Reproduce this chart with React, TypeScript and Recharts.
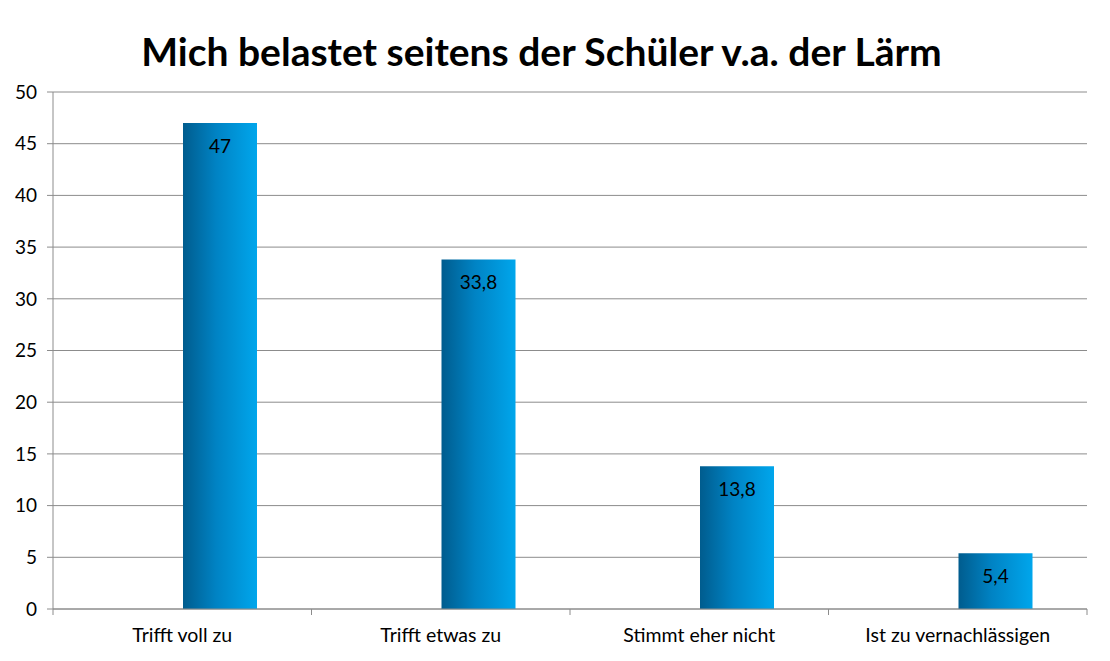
import React from "react";
import { BarChart, Bar, XAxis, YAxis, CartesianGrid, LabelList } from "recharts";

const categories = ["Trifft voll zu", "Trifft etwas zu", "Stimmt eher nicht", "Ist zu vernachlässigen"];
const emptySeries: (number | null)[] = [null, null, null, null];
const values = [47, 33.8, 13.8, 5.4];
const yTicks = [0, 5, 10, 15, 20, 25, 30, 35, 40, 45, 50];
const title = "Mich belastet seitens der Schüler v.a. der Lärm";

const data = categories.map((c, i) => ({ name: c, a: emptySeries[i], v: values[i] }));

const FONT = "Lato, 'Noto Sans', sans-serif";
const GRAY = "#8c8c8c";
const TICK_MARGIN = 19;

const CategoryTick = (props: any) => {
  const { x, y, payload, index, visibleTicksCount } = props;
  const half = payload && payload.offset ? payload.offset : 0;
  const axisY = y - TICK_MARGIN;
  const isLast = index === (visibleTicksCount ?? 4) - 1;
  return (
    <g>
      <line x1={x - half} x2={x - half} y1={axisY} y2={axisY + 6} stroke={GRAY} />
      {isLast && <line x1={x + half} x2={x + half} y1={axisY} y2={axisY + 6} stroke={GRAY} />}
      <text x={x} y={y} dy="0.71em" textAnchor="middle" fill="#000" fontSize={19.5} fontFamily={FONT}>
        {payload.value}
      </text>
    </g>
  );
};

export default function App() {
  return (
    <div style={{ position: "absolute", left: 0, top: 0, width: 1110, height: 661, background: "#fff", fontFamily: FONT }}>
      <div
        style={{
          position: "absolute",
          left: 0,
          top: 26,
          width: 1083,
          textAlign: "center",
          fontSize: 39,
          fontWeight: 700,
          color: "#000",
          lineHeight: "50px",
          fontFamily: FONT,
        }}
      >
        {title}
      </div>
      <BarChart
        width={1110}
        height={661}
        data={data}
        margin={{ top: 92, right: 23, bottom: 12, left: 0 }}
        barGap={1}
        barSize={74}
      >
        <defs>
          <linearGradient id="barGrad" x1="0" y1="0" x2="1" y2="0">
            <stop offset="0%" stopColor="#005c8e" />
            <stop offset="45%" stopColor="#0083c4" />
            <stop offset="100%" stopColor="#00a6ec" />
          </linearGradient>
        </defs>
        <CartesianGrid vertical={false} stroke={GRAY} strokeWidth={1} />
        <XAxis
          dataKey="name"
          tickLine={false}
          tickSize={0}
          axisLine={{ stroke: GRAY }}
          tick={CategoryTick}
          tickMargin={TICK_MARGIN}
          height={40}
          interval={0}
        />
        <YAxis
          domain={[0, 50]}
          ticks={yTicks}
          tickSize={6}
          tickMargin={10}
          width={53}
          axisLine={{ stroke: GRAY }}
          tickLine={{ stroke: GRAY }}
          tick={{ fill: "#000", fontSize: 19, fontFamily: FONT }}
          interval={0}
        />
        <Bar dataKey="a" fill="url(#barGrad)" isAnimationActive={false} />
        <Bar dataKey="v" fill="url(#barGrad)" isAnimationActive={false}>
          <LabelList
            dataKey="v"
            position="insideTop"
            offset={16}
            formatter={(v: number) => String(v).replace(".", ",")}
            style={{ fill: "#000", fontSize: 19, fontFamily: FONT }}
          />
        </Bar>
      </BarChart>
    </div>
  );
}
